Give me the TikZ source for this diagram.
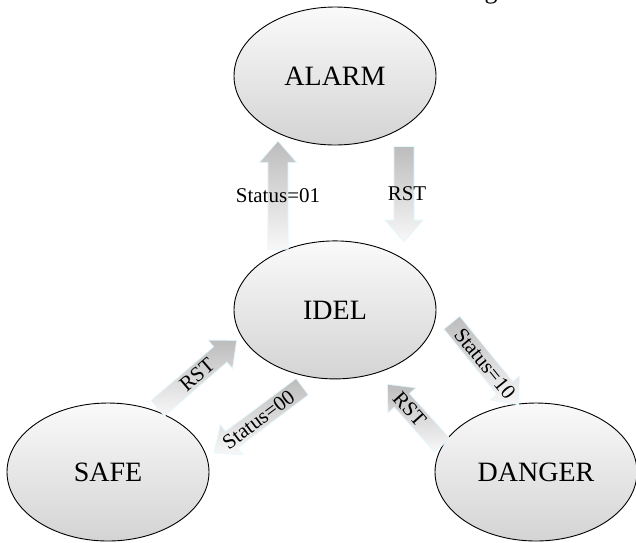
\documentclass[tikz,border=0pt]{standalone}
\usepackage{fontspec}
\setmainfont{Liberation Serif}
\usetikzlibrary{positioning,calc,shapes.geometric,shapes.arrows}

\tikzset{
    statenode/.style={ellipse, draw, line width=0.9pt, top color=gray!4, bottom color=gray!34,
        minimum width=202pt, minimum height=138pt, inner sep=0pt,
        font=\fontsize{28}{32}\selectfont},
    blockarrow/.style={single arrow, inner xsep=0pt, inner ysep=9.5pt, minimum width=0pt,
        single arrow head extend=8pt, single arrow tip angle=82,
        top color=gray!52, bottom color=gray!6, draw=none,
        preaction={draw=cyan!10, line width=2pt}},
    arrowlabel/.style={midway, inner sep=0pt, font=\fontsize{21}{24}\selectfont},
}

% block arrow from #2 to #3, label #4
\newcommand{\statearrow}[4][]{%
    \path let \p1=(#2), \p2=(#3), \n1={atan2(\y2-\y1,\x2-\x1)}, \n2={veclen(\x2-\x1,\y2-\y1)} in
        node[blockarrow, anchor=tail, rotate=\n1, minimum height=\n2] at (\p1) {};
    \path (#2) -- (#3) node[arrowlabel, #1] {#4};
}

\begin{document}
\begin{tikzpicture}[x=1pt, y=-1pt]
    \useasboundingbox (0,0) rectangle (636,542);

    % cut-off line of the page above
    \node[anchor=base east, inner sep=0pt, font=\fontsize{26}{28}\selectfont] (pageline) at (531,-1.5)
        {conversion between the states show in Figure};

    \node[statenode] (alarm) at (335,76) {ALARM};
    \node[statenode, below=95pt of alarm] (idel) {IDEL};
    \node[statenode] (safe) at (108,472) {SAFE};
    \node[statenode] (danger) at (536,472) {DANGER};

    \coordinate (a1) at ($(idel)+(-57,-61)$);
    \coordinate (b1) at ($(alarm)+(-57,66)$);
    \coordinate (a2) at ($(alarm)+(69,71)$);
    \coordinate (b2) at ($(idel)+(69,-69)$);
    \coordinate (a3) at ($(safe)+(50,-64)$);
    \coordinate (b3) at ($(idel)+(-99,31)$);
    \coordinate (a4) at ($(idel)+(-33,77)$);
    \coordinate (b4) at ($(safe)+(107,-20)$);
    \coordinate (a5) at ($(idel)+(117,13)$);
    \coordinate (b5) at ($(danger)+(-18,-68)$);
    \coordinate (a6) at ($(danger)+(-94,-27)$);
    \coordinate (b6) at ($(idel)+(53,75)$);

    \statearrow{a1}{b1}{Status=01}
    \statearrow[xshift=3pt]{a2}{b2}{RST}
    \statearrow[sloped]{a3}{b3}{RST}
    \statearrow[sloped]{a4}{b4}{Status=00}
    \statearrow[sloped]{a5}{b5}{Status=10}
    \statearrow[sloped, pos=0.6]{a6}{b6}{RST}
\end{tikzpicture}
\end{document}
